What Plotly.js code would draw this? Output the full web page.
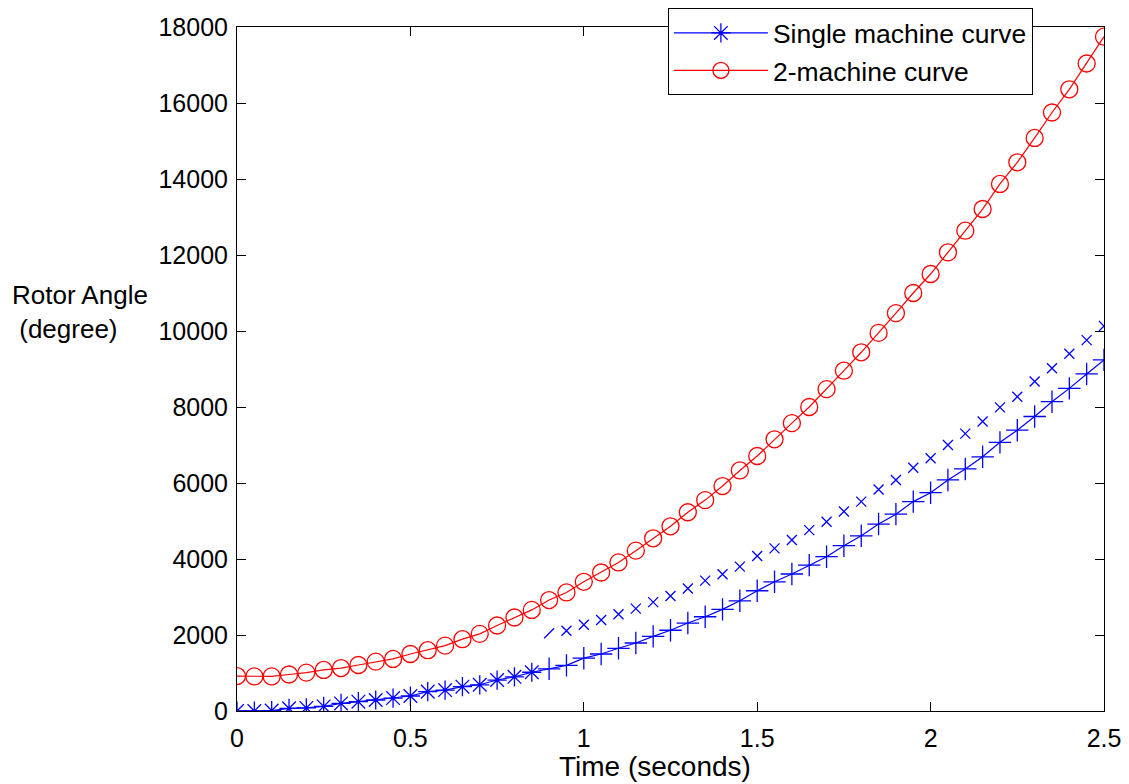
<!DOCTYPE html>
<html>
<head>
<meta charset="utf-8">
<script src="https://cdn.plot.ly/plotly-3.0.1.min.js"></script>
<style>html,body{margin:0;padding:0;background:#fff;}#chart{width:1129px;height:784px;}</style>
</head>
<body>
<div id="chart"></div>
<script>
// Time axis (seconds)
var time = [0,0.05,0.1,0.15,0.2,0.25,0.3,0.35,0.4,0.45,0.5,0.55,0.6,0.65,0.7,0.75,0.8,0.85,0.9,0.95,
            1.0,1.05,1.1,1.15,1.2,1.25,1.3,1.35,1.4,1.45,1.5,1.55,1.6,1.65,1.7,1.75,1.8,1.85,1.9,1.95,
            2.0,2.05,2.1,2.15,2.2,2.25,2.3,2.35,2.4,2.45,2.5];

// Single machine curve (degree)
var singleMachine = [0,0,10,70,80,120,200,245,290,340,395,510,550,640,690,815,900,1020,1110,1200,
                     1390,1500,1650,1790,1965,2125,2315,2480,2675,2900,3165,3400,3605,3840,4060,4350,4610,4920,5180,5510,
                     5745,6080,6370,6690,7070,7390,7750,8140,8490,8870,9240];

// 2-machine curve (degree)
var twoMachine = [920,910,910,960,1010,1080,1130,1210,1300,1370,1500,1600,1720,1890,2030,2250,2460,2660,2920,3120,
                  3400,3645,3910,4220,4545,4860,5230,5550,5920,6330,6710,7150,7575,8000,8470,8955,9440,9950,10470,11000,
                  11500,12070,12640,13210,13870,14440,15080,15750,16360,17040,17745];

// Detached "x" marker points (degree), from t = 0.9 s
var offsetTime = [0.9,0.95,1.0,1.05,1.1,1.15,1.2,1.25,1.3,1.35,1.4,1.45,1.5,1.55,1.6,1.65,1.7,1.75,1.8,1.85,
                  1.9,1.95,2.0,2.05,2.1,2.15,2.2,2.25,2.3,2.35,2.4,2.45,2.5];
var offsetValues = [2045,2110,2270,2395,2545,2695,2865,3025,3225,3430,3600,3800,4080,4280,4500,4760,4980,5250,5510,5830,
                    6080,6400,6650,7000,7300,7620,7990,8270,8670,9020,9400,9760,10130];

var xTickVals = [0,0.5,1,1.5,2,2.5];
var xTickText = ['0','0.5','1','1.5','2','2.5'];
var yTickVals = [0,2000,4000,6000,8000,10000,12000,14000,16000,18000];
var yTickText = ['0','2000','4000','6000','8000','10000','12000','14000','16000','18000'];

var singleSymbols = time.map(function(t){ return t < 0.875 ? 'asterisk-open' : 'cross-thin-open'; });
var offsetSymbols = offsetTime.map(function(t, i){ return i === 0 ? 'line-ne-open' : 'x-thin-open'; });

var blue = '#0000ff', red = '#ff0000';

var traces = [
  {
    x: time, y: singleMachine, type: 'scatter', mode: 'lines+markers',
    name: 'Single machine curve',
    line: {color: blue, width: 1.2},
    marker: {symbol: singleSymbols, size: 16, color: blue, line: {color: blue, width: 1.3}}
  },
  {
    x: time, y: twoMachine, type: 'scatter', mode: 'lines+markers',
    name: '2-machine curve',
    line: {color: red, width: 1.2},
    marker: {symbol: 'circle-open', size: 17, color: red, line: {color: red, width: 1.3}}
  },
  {
    x: offsetTime, y: offsetValues, type: 'scatter', mode: 'markers',
    name: 'offset', showlegend: false,
    marker: {symbol: offsetSymbols, size: 10, color: blue, line: {color: blue, width: 1.3}}
  }
];

var fam = 'Liberation Sans, Arial, sans-serif';
var axisFont = {family: fam, size: 25, color: '#000'};

var layout = {
  width: 1129, height: 784,
  margin: {l: 237, r: 25, t: 27, b: 73, pad: 0, autoexpand: false},
  paper_bgcolor: '#fff', plot_bgcolor: '#fff',
  showlegend: true,
  xaxis: {
    range: [0, 2.5], tickvals: xTickVals, ticktext: xTickText,
    ticks: 'inside', ticklen: 9, tickwidth: 1, tickcolor: '#000',
    showline: true, linecolor: '#000', linewidth: 1, mirror: 'ticks',
    showgrid: false, zeroline: false, automargin: false,
    tickfont: axisFont, ticklabelstandoff: 5
  },
  yaxis: {
    range: [0, 18000], tickvals: yTickVals, ticktext: yTickText,
    ticks: 'inside', ticklen: 9, tickwidth: 1, tickcolor: '#000',
    showline: true, linecolor: '#000', linewidth: 1, mirror: 'ticks',
    showgrid: false, zeroline: false, automargin: false,
    tickfont: axisFont, ticklabelstandoff: 3
  },
  legend: {
    x: 0.497, y: 1.0275, xanchor: 'left', yanchor: 'top',
    bgcolor: '#fff', bordercolor: '#000', borderwidth: 1,
    font: {family: fam, size: 26.5, color: '#000'},
    itemwidth: 94, tracegroupgap: 0
  },
  annotations: [
    {
      xref: 'paper', yref: 'paper', x: -0.262, y: 0.583,
      xanchor: 'left', yanchor: 'middle', align: 'left', showarrow: false,
      text: 'Rotor Angle<br>&nbsp;(degree)',
      font: {family: fam, size: 26, color: '#000'}
    },
    {
      xref: 'paper', yref: 'paper', x: 0.482, y: -0.1054,
      xanchor: 'center', yanchor: 'bottom', showarrow: false,
      borderpad: 0,
      text: 'Time (seconds)',
      font: {family: fam, size: 28, color: '#000'}
    }
  ]
};

Plotly.newPlot('chart', traces, layout, {displayModeBar: false, staticPlot: true});
</script>
</body>
</html>
